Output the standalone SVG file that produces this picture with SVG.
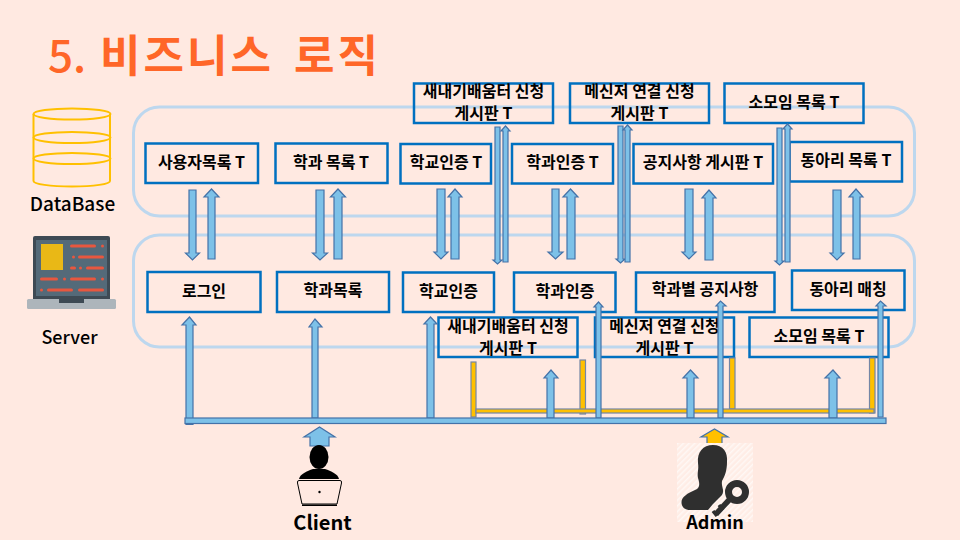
<svg xmlns="http://www.w3.org/2000/svg" width="960" height="540" viewBox="0 0 960 540">
<style>
text{font-family:"Noto Sans CJK KR","Noto Sans",sans-serif;fill:#000}
.t{font-size:16px;font-weight:700;text-anchor:middle}
.title{font-size:44px;font-weight:700;fill:#FF6628;letter-spacing:3px;word-spacing:7px}
.lab{font-size:19px;font-weight:500;text-anchor:middle}
.big{font-size:20px;font-weight:700;text-anchor:middle}
.panel{fill:none;stroke:#BDD7EE;stroke-width:3}
.box{fill:none;stroke:#0070C0;stroke-width:2.5}
.a{fill:#7DC1E8;stroke:#4472A8;stroke-width:1.2}
.y{fill:#FFC000;stroke:#7486A6;stroke-width:1.2}
.db{fill:none;stroke:#FFC000;stroke-width:2}
.r{fill:#E8573F}
</style>
<defs>
<pattern id="hatch" width="4" height="4" patternUnits="userSpaceOnUse" patternTransform="rotate(-45)">
<rect width="4" height="4" fill="#FFEDE6"/><rect width="4" height="1.500" fill="#FFF8F5"/>
</pattern>
</defs>
<rect width="960" height="540" fill="#FFE9E1"/>
<text class="title" x="48" y="72" style="font-weight:500;letter-spacing:0">5.</text>
<text class="title" x="100" y="72">비즈니스 로직</text>
<rect class="panel" x="133.500" y="107" width="781" height="109" rx="26"/>
<rect class="panel" x="133.500" y="235" width="781" height="112" rx="26"/>

<g id="database">
<path class="db" d="M33.500 114V181C33.500 184 50 186.500 72 186.500S110 184 110 181V114"/>
<ellipse class="db" cx="72" cy="114" rx="38.500" ry="5.500"/>
<ellipse class="db" cx="72" cy="137.500" rx="38.500" ry="5.500"/>
<ellipse class="db" cx="72" cy="158.500" rx="38.500" ry="5.500"/>
<text class="lab" x="72.500" y="211">DataBase</text>
</g>

<g id="server">
<path d="M35 236H108Q110 236 110 238V300H33V238Q33 236 35 236Z" fill="#3E4A54"/>
<rect x="36" y="240" width="71" height="56" fill="#546A79"/>
<rect x="41" y="244" width="22" height="26" fill="#E9B816"/>
<rect x="27" y="299" width="89" height="10" rx="1.500" fill="#ADB5BB"/>
<rect x="59" y="299" width="25" height="4" fill="#3E4A54"/>
<g class="r">
<rect x="70" y="244.500" width="26" height="3" rx="1.500"/><rect x="101" y="244.500" width="3" height="3" rx="1.500"/>
<rect x="72" y="255.500" width="3" height="3" rx="1.500"/><rect x="78" y="255.500" width="26" height="3" rx="1.500"/>
<rect x="70" y="266.500" width="6" height="3" rx="1.500"/><rect x="79" y="266.500" width="3" height="3" rx="1.500"/><rect x="86" y="266.500" width="18" height="3" rx="1.500"/>
<rect x="40" y="277.500" width="18" height="3" rx="1.500"/><rect x="63" y="277.500" width="3" height="3" rx="1.500"/><rect x="70" y="277.500" width="26" height="3" rx="1.500"/><rect x="101" y="277.500" width="3" height="3" rx="1.500"/>
<rect x="40" y="288.500" width="3" height="3" rx="1.500"/><rect x="47" y="288.500" width="26" height="3" rx="1.500"/><rect x="78" y="288.500" width="26" height="3" rx="1.500"/>
</g>
<text class="lab" x="69.500" y="344" style="font-size:18px">Server</text>
</g>

<g id="t-user"><rect class="box" x="145.500" y="143.500" width="112.500" height="39.500"/><text class="t" x="201.500" y="168">사용자목록 T</text></g>
<g id="t-dept"><rect class="box" x="275.500" y="143.500" width="112" height="39.500"/><text class="t" x="331" y="168">학과 목록 T</text></g>
<g id="t-school"><rect class="box" x="400.500" y="144" width="90.500" height="39.500"/><text class="t" x="446" y="168">학교인증 T</text></g>
<g id="t-deptauth"><rect class="box" x="512" y="144" width="101" height="39.500"/><text class="t" x="562.500" y="168">학과인증 T</text></g>
<g id="t-notice"><rect class="box" x="633.500" y="144" width="139.500" height="39.500"/><text class="t" x="703" y="168">공지사항 게시판 T</text></g>
<g id="t-club"><rect class="box" x="789.500" y="142" width="112.500" height="39.500"/><text class="t" x="846" y="166">동아리 목록 T</text></g>
<g id="t-fresh"><rect class="box" x="414" y="83.500" width="139" height="39.500"/><text class="t" x="483.500" y="97">새내기배움터 신청</text><text class="t" x="483.500" y="119">게시판 T</text></g>
<g id="t-msg"><rect class="box" x="570" y="83.500" width="139" height="39.500"/><text class="t" x="639.500" y="97">메신저 연결 신청</text><text class="t" x="639.500" y="119">게시판 T</text></g>
<g id="t-small"><rect class="box" x="724.500" y="83.500" width="139" height="39.500"/><text class="t" x="794" y="108">소모임 목록 T</text></g>

<g id="s-login"><rect class="box" x="147.500" y="272" width="113" height="40"/><text class="t" x="204" y="297">로그인</text></g>
<g id="s-dept"><rect class="box" x="277" y="272" width="112" height="40"/><text class="t" x="333" y="296">학과목록</text></g>
<g id="s-school"><rect class="box" x="403" y="272.500" width="91" height="39.500"/><text class="t" x="448.500" y="297">학교인증</text></g>
<g id="s-deptauth"><rect class="box" x="514" y="272.500" width="101.500" height="39.500"/><text class="t" x="565" y="297">학과인증</text></g>
<g id="s-notice"><rect class="box" x="636" y="272.500" width="138.500" height="39.500"/><text class="t" x="705" y="295">학과별 공지사항</text></g>
<g id="s-club"><rect class="box" x="792" y="270.500" width="112.500" height="39.500"/><text class="t" x="848" y="295">동아리 매칭</text></g>
<g id="s-fresh"><rect class="box" x="438.500" y="317.500" width="139" height="39.500"/><text class="t" x="508" y="332">새내기배움터 신청</text><text class="t" x="508" y="354">게시판 T</text></g>
<g id="s-msg"><rect class="box" x="595" y="317.500" width="139" height="39.500"/><text class="t" x="664.500" y="332">메신저 연결 신청</text><text class="t" x="664.500" y="354">게시판 T</text></g>
<g id="s-small"><rect class="box" x="749.500" y="317.500" width="139" height="39.500"/><text class="t" x="819" y="342">소모임 목록 T</text></g>

<g id="connectors">
<g id="yellow-bus">
<rect class="y" x="471" y="362" width="5" height="55"/>
<rect class="y" x="580" y="360" width="5.500" height="54"/>
<rect class="y" x="729.500" y="358" width="5.500" height="51"/>
<rect class="y" x="869.500" y="358" width="5.500" height="55"/>
<rect class="y" x="476" y="409" width="398" height="4"/>
</g>
<polygon class="a" points="189,190 196,190 196,253 199.500,253 192.500,260 185.500,253 189,253"/>
<polygon class="a" points="208,259 215,259 215,197 219,197 211.500,189 204,197 208,197"/>
<polygon class="a" points="316,190 324,190 324,253 327.500,253 320,260 312.500,253 316,253"/>
<polygon class="a" points="334,259 342,259 342,197 345.500,197 338,189 330.500,197 334,197"/>
<polygon class="a" points="437,189 445,189 445,252 448,252 441,259 434,252 437,252"/>
<polygon class="a" points="451,259 459,259 459,197 462,197 455,189 448,197 451,197"/>
<polygon class="a" points="552,189 559,189 559,252 563,252 555.500,259 548,252 552,252"/>
<polygon class="a" points="567,259 575,259 575,197 578,197 570.500,189 563,197 567,197"/>
<polygon class="a" points="685,189 693,189 693,252 696,252 689,259 682,252 685,252"/>
<polygon class="a" points="705,260 713,260 713,198 716,198 709,190 702,198 705,198"/>
<polygon class="a" points="833,190 841,190 841,253 844,253 837,260 830,253 833,253"/>
<polygon class="a" points="853,259 860,259 860,197 863,197 856,189 849,197 853,197"/>
<polygon class="a" points="495,127 500,127 500,260 502,260 497.500,264 493,260 495,260"/>
<polygon class="a" points="503,262 508,262 508,131 510,131 505.500,126 501,131 503,131"/>
<polygon class="a" points="618,126 623,126 623,259 625,259 620.500,263 616,259 618,259"/>
<polygon class="a" points="625,262 630,262 630,130 632,130 627.500,125 623,130 625,130"/>
<polygon class="a" points="777,128 782,128 782,261 784,261 779.500,265 775,261 777,261"/>
<polygon class="a" points="785,262 790,262 790,129 792,129 787.500,124 783,129 785,129"/>
<polygon class="a" points="186,424.500 193,424.500 193,325 196,325 189.500,317 182,325 186,325"/>
<polygon class="a" points="312,418 318,418 318,327 322,327 315,319 309,327 312,327"/>
<polygon class="a" points="427,418 434,418 434,324 437,324 430.500,317 424,324 427,324"/>
<polygon class="a" points="547,418 554,418 554,378 558,378 551,370 544,378 547,378"/>
<polygon class="a" points="687,418 694,418 694,378 698,378 690.500,370 683,378 687,378"/>
<polygon class="a" points="829,418 837,418 837,378 840,378 833,370 825,378 829,378"/>
<polygon class="a" points="596,418 601,418 601,307 603,307 598.500,302 594,307 596,307"/>
<polygon class="a" points="718,418 723,418 723,306 726,306 720.500,301 716,306 718,306"/>
<polygon class="a" points="878,417 883,417 883,306 886,306 880.500,301 876,306 878,306"/>
<rect class="a" x="185" y="418" width="701" height="5.500"/>
<polygon class="a" points="310,446 329,446 329,437 335,437 319.500,427 304,437 310,437"/>
<polygon class="y" points="707,444 722,444 722,437 728,437 714.500,429 701,437 707,437" style="stroke:#4472A8"/>
</g>

<g id="client">
<ellipse cx="319" cy="457" rx="9.500" ry="12"/>
<path d="M299 479C300 474 307 471 313 469H325C331 471 338 474 339 479Z"/>
<path d="M299 480.500H340Q342 480.500 341.500 483L337 504H302L297.500 483Q297 480.500 299 480.500Z" fill="#FFE9E1" stroke="#000" stroke-width="1"/>
<rect x="302" y="504.500" width="35" height="1.500"/>
<circle cx="319.500" cy="492" r="1.200"/>
<text class="big" x="322.500" y="530">Client</text>
</g>

<g id="admin">
<rect x="677" y="443" width="76" height="79" fill="url(#hatch)"/>
<path d="M713 445C723 445 728 452 727 462C727 470 725 476 722 481C721 487 725 490 722 495L713 504L708 510H690C686 510 682 508 681.500 503C681 497 688 493 695 490C700 488 700 484 698 478C697 472 699 470 698 463C697 452 703 445 713 445Z" fill="#2F2F2F"/>
<g fill="none" stroke="#2F2F2F">
<circle cx="737" cy="492" r="8.500" stroke-width="7"/>
<path d="M730 499L716 514" stroke-width="5.500"/>
<path d="M723 510L719 505M717 516L713 511" stroke-width="3.500"/>
</g>
<text class="big" x="715" y="529" style="font-size:18px">Admin</text>
</g>
</svg>
